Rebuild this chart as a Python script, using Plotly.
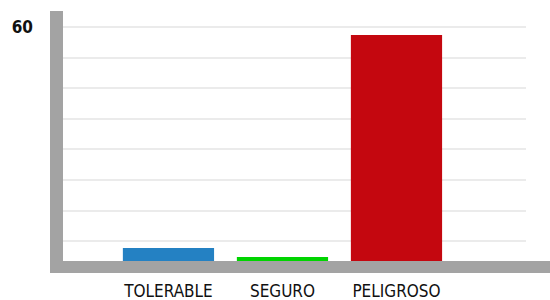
import plotly.graph_objects as go

categories = ["TOLERABLE", "SEGURO", "PELIGROSO"]
values = [5.9, 3.7, 58.0]
bar_colors = ["#2481c3", "#00d400", "#c4070f"]
grid_vals = [7.5, 15, 22.5, 30, 37.5, 45, 52.5, 60]
grid_text = ["", "", "", "", "", "", "", "60"]

W, H = 550, 300
L, R, T, B = 63, 24, 11, 28
pw, ph = W - L - R, H - T - B
GRAY = "#a3a3a3"

def px(x):
    return (x - L) / pw

def py(y):
    return (H - B - y) / ph

fig = go.Figure(go.Bar(x=categories, y=values, marker=dict(color=bar_colors, line=dict(width=0)),
                       width=0.8))

font_family = "DejaVu Sans Condensed, Liberation Sans Narrow, sans-serif"

fig.update_layout(
    width=W, height=H,
    margin=dict(l=L, r=R, t=T, b=B, pad=0, autoexpand=False),
    plot_bgcolor="white", paper_bgcolor="white",
    showlegend=False,
    bargap=0.2,
    xaxis=dict(range=[-0.925, 3.136], showgrid=False, zeroline=False, showline=False,
               automargin=False,
               ticks="", tickfont=dict(family=font_family, size=17, color="#111"),
               ticklabelstandoff=7),
    yaxis=dict(range=[0, 63.9], tickvals=grid_vals, ticktext=grid_text,
               showgrid=True, gridcolor="#ebebeb", gridwidth=2, zeroline=False,
               showline=False, ticks="", automargin=False,
               tickfont=dict(family=font_family, size=17, color="#111", weight="bold"),
               ticklabelstandoff=29),
    shapes=[
        dict(type="rect", xref="paper", yref="paper", x0=px(50), x1=px(63), y0=py(273), y1=py(11),
             fillcolor=GRAY, line=dict(width=0), layer="above"),
        dict(type="rect", xref="paper", yref="paper", x0=px(50), x1=px(550), y0=py(273), y1=py(261),
             fillcolor=GRAY, line=dict(width=0), layer="above"),
    ],
)

fig.write_html("out.html", config={"displayModeBar": False},
               post_script="document.body.style.margin='0';")
